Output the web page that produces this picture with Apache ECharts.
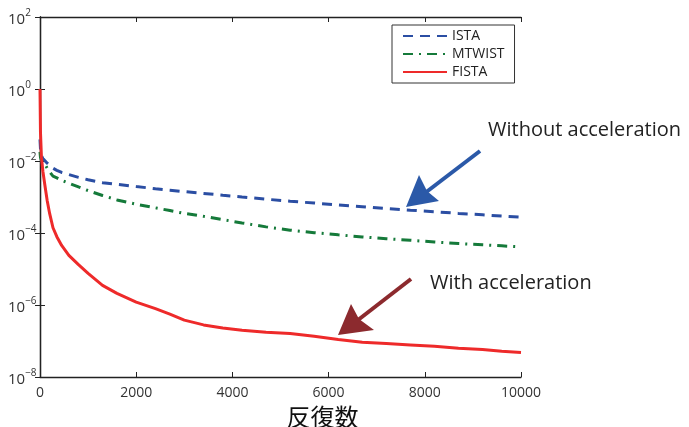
<!DOCTYPE html>
<html>
<head>
<meta charset="utf-8">
<script src="https://cdn.jsdelivr.net/npm/echarts@6/dist/echarts.min.js"></script>
<style>
  html, body { margin: 0; padding: 0; background: #fff; }
  #chart { width: 689px; height: 427px; }
</style>
</head>
<body>
<div id="chart"></div>
<script>
// iteration counts shared by all three curves
const iterations = [0, 10, 30, 60, 100, 150, 200, 270, 350, 450, 600, 800, 1000, 1300, 1600, 2000,
  2400, 2700, 3000, 3400, 3800, 4200, 4700, 5200, 5700, 6200, 6700, 7200, 7700, 8200, 8700, 9200, 9600, 10000];

const ista = [4.0e-2, 2.2e-2, 1.4e-2, 1.17e-2, 1.05e-2, 8.7e-3, 7.6e-3, 6.3e-3, 5.5e-3, 4.8e-3, 4.2e-3,
  3.5e-3, 3.0e-3, 2.5e-3, 2.24e-3, 1.95e-3, 1.7e-3, 1.55e-3, 1.41e-3, 1.26e-3, 1.12e-3, 1.0e-3,
  8.7e-4, 7.6e-4, 6.8e-4, 6.0e-4, 5.4e-4, 4.8e-4, 4.3e-4, 3.9e-4, 3.5e-4, 3.2e-4, 2.95e-4, 2.75e-4];

const mtwist = [1.78e-2, 1.26e-2, 1.05e-2, 9.3e-3, 8.3e-3, 6.3e-3, 5.0e-3, 3.8e-3, 3.4e-3, 2.9e-3, 2.4e-3,
  1.9e-3, 1.51e-3, 1.1e-3, 8.3e-4, 6.3e-4, 5.0e-4, 4.2e-4, 3.5e-4, 2.9e-4, 2.35e-4, 1.9e-4,
  1.48e-4, 1.2e-4, 1.02e-4, 8.9e-5, 7.8e-5, 6.9e-5, 6.3e-5, 5.6e-5, 5.1e-5, 4.7e-5, 4.4e-5, 4.1e-5];

const fista = [1, 6.3e-2, 1.26e-2, 5.2e-3, 2.2e-3, 7.9e-4, 3.5e-4, 1.4e-4, 7.9e-5, 4.5e-5, 2.4e-5,
  1.32e-5, 7.6e-6, 3.5e-6, 2.1e-6, 1.2e-6, 7.9e-7, 5.6e-7, 3.8e-7, 2.8e-7, 2.3e-7, 2.0e-7,
  1.74e-7, 1.62e-7, 1.35e-7, 1.1e-7, 9.3e-8, 8.5e-8, 7.8e-8, 7.1e-8, 6.3e-8, 5.8e-8, 5.2e-8, 4.8e-8];

const xTicks = [0, 2000, 4000, 6000, 8000, 10000];
const yExponents = [2, 0, -2, -4, -6, -8];

const FONT = '"Open Sans", "Noto Sans", sans-serif';
const AXIS_COLOR = '#222';

const pairs = (ys) => iterations.map((x, i) => [x, ys[i]]);

const yLabel = (v) => {
  const e = Math.round(Math.log10(v));
  if (!yExponents.includes(e)) return '';
  return '{b|10}{s|' + (e < 0 ? '\u2212' + (-e) : e) + '}';
};

const frameAxisLine = { show: true, lineStyle: { color: AXIS_COLOR, width: 1.3 } };
const frameTick = { show: true, inside: true, length: 5, lineStyle: { color: AXIS_COLOR, width: 1 } };

const chart = echarts.init(document.getElementById('chart'));
chart.setOption({
  backgroundColor: '#fff',
  animation: false,
  grid: { left: 40, top: 17, right: 168, bottom: 50, containLabel: false, outerBoundsMode: 'none' },
  legend: {
    orient: 'vertical',
    left: 392,
    top: 25,
    padding: [4, 10, 4, 10],
    itemGap: 4,
    itemWidth: 44,
    itemHeight: 13,
    borderColor: '#333',
    borderWidth: 1,
    borderRadius: 0,
    backgroundColor: '#fff',
    itemStyle: { opacity: 0 },
    textStyle: { fontFamily: FONT, fontSize: 14, lineHeight: 13, color: '#222' },
    data: ['ISTA', 'MTWIST', 'FISTA']
  },
  xAxis: [
    {
      type: 'value',
      min: 0,
      max: 10000,
      interval: 2000,
      name: '反復数',
      nameLocation: 'middle',
      nameGap: 27,
      nameTextStyle: {
        fontFamily: '"Noto Sans CJK JP", sans-serif',
        fontSize: 24,
        color: '#111',
        padding: [0, 0, 0, 84]
      },
      axisLine: frameAxisLine,
      axisTick: frameTick,
      splitLine: { show: false },
      axisLabel: {
        margin: 9,
        fontFamily: FONT,
        fontSize: 14,
        color: '#333',
        formatter: (v) => (xTicks.includes(v) ? String(v) : '')
      }
    },
    {
      type: 'value',
      position: 'top',
      min: 0,
      max: 10000,
      interval: 2000,
      axisLine: frameAxisLine,
      axisTick: frameTick,
      axisLabel: { show: false },
      splitLine: { show: false }
    }
  ],
  yAxis: [
    {
      type: 'log',
      logBase: 10,
      min: 1e-8,
      max: 1e2,
      interval: 2,
      axisLine: frameAxisLine,
      axisTick: frameTick,
      minorTick: { show: false },
      splitLine: { show: false },
      axisLabel: {
        margin: 32,
        align: 'left',
        fontFamily: FONT,
        color: '#333',
        formatter: yLabel,
        rich: {
          b: { fontFamily: FONT, fontSize: 15, color: '#333', padding: [6, 0, 0, 0] },
          s: { fontFamily: FONT, fontSize: 10, color: '#333', padding: [0, 0, 8, 0] }
        }
      }
    },
    {
      type: 'log',
      logBase: 10,
      position: 'right',
      min: 1e-8,
      max: 1e2,
      interval: 2,
      axisLine: frameAxisLine,
      axisTick: frameTick,
      axisLabel: { show: false },
      splitLine: { show: false }
    }
  ],
  series: [
    {
      name: 'ISTA',
      type: 'line',
      symbol: 'none',
      data: pairs(ista),
      lineStyle: { color: '#2b4ea3', width: 3, type: [10, 7] },
      itemStyle: { color: '#2b4ea3' },
      z: 3
    },
    {
      name: 'MTWIST',
      type: 'line',
      symbol: 'none',
      data: pairs(mtwist),
      lineStyle: { color: '#157a3a', width: 3, type: [10, 6, 2, 6] },
      itemStyle: { color: '#157a3a' },
      z: 3
    },
    {
      name: 'FISTA',
      type: 'line',
      symbol: 'none',
      data: pairs(fista),
      lineStyle: { color: '#ee2a2a', width: 3, join: 'round' },
      itemStyle: { color: '#ee2a2a' },
      z: 4
    }
  ],
  graphic: [
    // blue arrow -> "Without acceleration"
    { type: 'line', shape: { x1: 480, y1: 151, x2: 425, y2: 193 }, style: { stroke: '#2b59a8', lineWidth: 4 }, z: 10 },
    { type: 'polygon', shape: { points: [[406, 207], [419, 175], [427, 191], [439, 201]] }, style: { fill: '#2b59a8' }, z: 10 },
    { type: 'text', left: 488, top: 120, style: { text: 'Without acceleration', font: '20px ' + FONT, fill: '#222' }, z: 10 },
    // red arrow -> "With acceleration"
    { type: 'line', shape: { x1: 411, y1: 279, x2: 358, y2: 320 }, style: { stroke: '#8c2a2e', lineWidth: 4 }, z: 10 },
    { type: 'polygon', shape: { points: [[338, 335], [351, 304], [359, 319], [374, 330]] }, style: { fill: '#8c2a2e' }, z: 10 },
    { type: 'text', left: 430, top: 273, style: { text: 'With acceleration', font: '20px ' + FONT, fill: '#222' }, z: 10 }
  ]
});
</script>
</body>
</html>
